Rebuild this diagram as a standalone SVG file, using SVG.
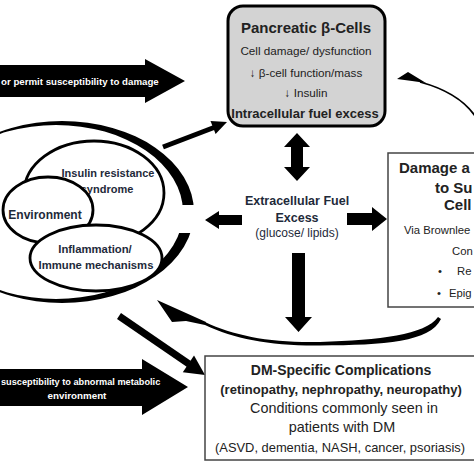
<svg xmlns="http://www.w3.org/2000/svg" width="474" height="474" viewBox="0 0 474 474">
<style>
.b{font-family:"Liberation Sans",Arial,sans-serif;font-weight:bold}
.r{font-family:"Liberation Sans",Arial,sans-serif}
.dk{fill:#1e2a3a}
.tx{fill:#222}
.wt{fill:#fff}
.ell{fill:#fff;stroke:#000;stroke-width:2.8}
.blk{fill:#000}
</style>
<defs>
<mask id="gap">
<rect x="-10" y="-10" width="500" height="500" fill="#fff"/>
<rect x="140" y="205" width="80" height="28" fill="#000"/>
</mask>
</defs>
<rect width="474" height="474" fill="#fff"/>

<g id="connectors">
<!-- top block arrow -->
<polygon class="blk" points="-2,65 145,65 145,59 185,81 145,103 145,97 -2,97"/>
<text class="b wt" x="1" y="85" font-size="9.7">or permit susceptibility to damage</text>
<!-- bottom block arrow -->
<polygon class="blk" points="-2,369 142,369 142,359 188,387 142,415 142,406 -2,406"/>
<text class="b wt" x="1" y="385" font-size="9.2">susceptibility to abnormal metabolic</text>
<text class="b wt" x="77" y="399" font-size="9.8" text-anchor="middle">environment</text>
<!-- crescent -->
<path class="blk" fill-rule="evenodd" mask="url(#gap)" d="M -70,212 a132,91 0 1,0 264,0 a132,91 0 1,0 -264,0 Z M -71,212 a127,87 0 1,0 254,0 a127,87 0 1,0 -254,0 Z"/>
<!-- diagonal to pancreatic -->
<line x1="163" y1="147" x2="214" y2="127.5" stroke="#000" stroke-width="5"/>
<polygon class="blk" points="227,122 215.6,134 210.5,121"/>
<!-- diagonal to DM -->
<line x1="119" y1="316" x2="189" y2="364" stroke="#000" stroke-width="7"/>
<polygon class="blk" points="205,375 182.8,372.2 194,355.6"/>
<!-- double arrow -->
<polygon class="blk" points="297,133 310,147 303,147 303,167 310,167 297,181 284,167 291,167 291,147 284,147"/>
<!-- left arrow -->
<polygon class="blk" points="205,220 219,211 219,215 242,215 242,225 219,225 219,229"/>
<!-- right arrow -->
<polygon class="blk" points="347,213 372,213 372,207 387,219 372,231 372,225 347,225"/>
<!-- down arrow -->
<polygon class="blk" points="292,253 305,253 305,317 312,317 298.5,332 285,317 292,317"/>
<!-- thin curve to pancreatic -->
<path d="M 477,119 C 466,101 446,89 420,82" fill="none" stroke="#000" stroke-width="1.8"/>
<polygon class="blk" points="397,79 408,72 426,83 412,81"/>
<!-- lower sweeping curve -->
<path class="blk" d="M 438,317 C 425,335 380,340 320,342 C 270,343 235,336 205,322 L 205,325 C 235,339 270,346 320,345.5 C 385,345 430,342 441,319 Z"/>
<polygon class="blk" points="157,300 206,322 205,325 186,321 172,322"/>
</g>

<g id="pancreatic">
<rect x="228" y="6" width="157" height="120" rx="15" fill="#d3d3d3" stroke="#000" stroke-width="3"/>
<text class="b tx" x="306" y="33" font-size="15" text-anchor="middle">Pancreatic β-Cells</text>
<text class="r tx" x="306" y="55" font-size="11.7" text-anchor="middle">Cell damage/ dysfunction</text>
<text class="r tx" x="306" y="77" font-size="11.7" text-anchor="middle">↓ β-cell function/mass</text>
<text class="r tx" x="306" y="97" font-size="11.7" text-anchor="middle">↓ Insulin</text>
<text class="b tx" x="305" y="118" font-size="13" text-anchor="middle">Intracellular fuel excess</text>
</g>

<g id="extracellular">
<text class="b dk" x="297" y="205" font-size="12.5" text-anchor="middle">Extracellular Fuel</text>
<text class="b dk" x="297" y="222" font-size="12.5" text-anchor="middle">Excess</text>
<text class="r dk" x="297" y="237" font-size="12" text-anchor="middle">(glucose/ lipids)</text>
</g>

<g id="insulin-resistance">
<ellipse class="ell" cx="94" cy="193" rx="70" ry="52"/>
<text class="b dk" x="108" y="177" font-size="11" text-anchor="middle">Insulin resistance</text>
<text class="b dk" x="107" y="193" font-size="11" text-anchor="middle">syndrome</text>
</g>

<g id="environment">
<ellipse class="ell" cx="48" cy="210" rx="45" ry="33"/>
<text class="b dk" x="45" y="219" font-size="12" text-anchor="middle">Environment</text>
</g>

<g id="inflammation">
<ellipse class="ell" cx="96" cy="258" rx="66" ry="33"/>
<text class="b dk" x="95" y="253" font-size="11.3" text-anchor="middle">Inflammation/</text>
<text class="b dk" x="96" y="269" font-size="11.3" text-anchor="middle">Immune mechanisms</text>
</g>

<g id="damage">
<rect x="388" y="153" width="100" height="154" fill="#fff" stroke="#444" stroke-width="1.5"/>
<text class="b tx" x="399" y="173" font-size="15">Damage a</text>
<text class="b tx" x="435" y="193" font-size="15">to Su</text>
<text class="b tx" x="444" y="210" font-size="15">Cell</text>
<text class="r tx" x="404" y="234" font-size="11.3">Via Brownlee</text>
<text class="r tx" x="452" y="255" font-size="11.3">Con</text>
<text class="r tx" x="438" y="275" font-size="11.3">•</text>
<text class="r tx" x="457" y="275" font-size="11.3">Re</text>
<text class="r tx" x="437" y="297" font-size="11.3">•</text>
<text class="r tx" x="449" y="297" font-size="11.3">Epig</text>
</g>

<g id="dm-complications">
<rect x="205" y="356" width="280" height="104" fill="#fff" stroke="#444" stroke-width="1.5"/>
<text class="b tx" x="341" y="375" font-size="14" text-anchor="middle">DM-Specific Complications</text>
<text class="b tx" x="341" y="394" font-size="13" text-anchor="middle">(retinopathy, nephropathy, neuropathy)</text>
<text class="r tx" x="344" y="413" font-size="14.4" text-anchor="middle">Conditions commonly seen in</text>
<text class="r tx" x="342" y="432" font-size="14.4" text-anchor="middle">patients with DM</text>
<text class="r tx" x="340" y="452" font-size="12.9" text-anchor="middle">(ASVD, dementia, NASH, cancer, psoriasis)</text>
</g>
</svg>
